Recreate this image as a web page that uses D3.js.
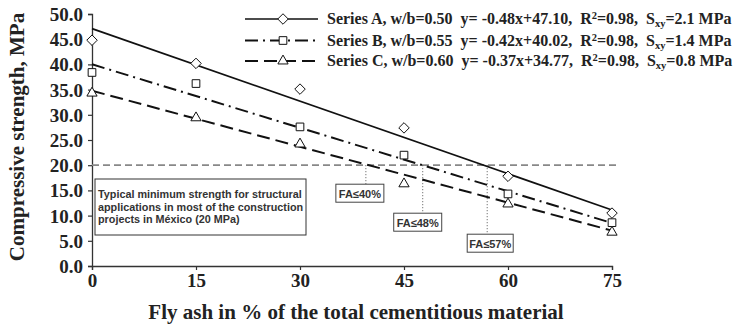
<!DOCTYPE html>
<html>
<head>
<meta charset="utf-8">
<script src="https://cdn.jsdelivr.net/npm/d3@7"></script>
<style>
  body { margin: 0; background: #fff; }
  svg { display: block; }
</style>
</head>
<body>
<script>
// fly ash content, %
const flyAsh = [0, 15, 30, 45, 60, 75]

const seriesA = [44.8, 40.2, 35.1, 27.4, 17.8, 10.5]
const seriesB = [38.4, 36.2, 27.6, 22.0, 14.3, 8.6]
const seriesC = [34.3, 29.4, 24.2, 16.3, 12.3, 6.7]

// regression fits from the legend
const slopes = [-0.48, -0.42, -0.37]
const intercepts = [47.10, 40.02, 34.77]

const seriesNames = ['Series A, w/b=0.50', 'Series B, w/b=0.55', 'Series C, w/b=0.60']
const fitTexts = ['y= -0.48x+47.10', 'y= -0.42x+40.02', 'y= -0.37x+34.77']
const sxyTexts = ['=2.1 MPa', '=1.4 MPa', '=0.8 MPa']

const yTicks = [0, 5, 10, 15, 20, 25, 30, 35, 40, 45, 50]
const xTicks = [0, 15, 30, 45, 60, 75]

// minimum strength line and where the fits cross it
const minStrength = 20
const crossings = [39.5, 47.7, 57.0]
const crossLabels = ['FA≤40%', 'FA≤48%', 'FA≤57%']

const width = 734
const height = 327

const svg = d3.select('body').append('svg')
  .attr('width', width)
  .attr('height', height)

const x = d3.scaleLinear().domain([0, 75]).range([92, 612])
const y = d3.scaleLinear().domain([0, 50]).range([266, 14])

const serif = '"Liberation Serif", "Times New Roman", serif'
const sans = '"Liberation Sans", Arial, sans-serif'

// axes
const yAxis = d3.axisLeft(y).tickValues(yTicks).tickSize(4).tickFormat(d3.format('.1f'))
const xAxis = d3.axisBottom(x).tickValues(xTicks).tickSize(4).tickFormat(d3.format('d'))

const gy = svg.append('g')
  .attr('transform', 'translate(' + x(0) + ',0)')
  .call(yAxis)
const gx = svg.append('g')
  .attr('transform', 'translate(0,' + y(0) + ')')
  .call(xAxis)

svg.selectAll('.domain').attr('stroke', '#333').attr('stroke-width', 1.3)
svg.selectAll('.tick line').attr('stroke', '#333').attr('stroke-width', 1.2)
svg.selectAll('.tick text')
  .style('font-family', serif)
  .style('font-weight', 'bold')
  .style('font-size', '19px')
  .attr('fill', '#222')
gy.selectAll('.tick text').attr('x', -9).attr('dy', '0.34em')
gx.selectAll('.tick text').attr('y', 8)

// axis titles
svg.append('text')
  .attr('transform', 'translate(24,' + 137 + ') rotate(-90)')
  .attr('text-anchor', 'middle')
  .style('font-family', serif)
  .style('font-weight', 'bold')
  .style('font-size', '21px')
  .attr('fill', '#222')
  .text('Compressive strength, MPa')

svg.append('text')
  .attr('x', 356)
  .attr('y', 319)
  .attr('text-anchor', 'middle')
  .style('font-family', serif)
  .style('font-weight', 'bold')
  .style('font-size', '21px')
  .attr('fill', '#222')
  .text('Fly ash in % of the total cementitious material')

// 20 MPa reference line
svg.append('line')
  .attr('x1', x(0)).attr('x2', x(76))
  .attr('y1', y(minStrength)).attr('y2', y(minStrength))
  .attr('stroke', '#888')
  .attr('stroke-width', 1.8)
  .attr('stroke-dasharray', '7,4')

// dotted drop lines and FA labels
const labelBoxes = [
  { dy: 19, w: 48, off: -6 },
  { dy: 48, w: 48, off: -5 },
  { dy: 69, w: 46, off: 3 }
]
crossings.forEach((c, i) => {
  const bx = x(c)
  const top = y(minStrength)
  const by = top + labelBoxes[i].dy
  const cx = bx + labelBoxes[i].off
  svg.append('line')
    .attr('x1', bx).attr('x2', bx)
    .attr('y1', top).attr('y2', by)
    .attr('stroke', '#555')
    .attr('stroke-width', 1)
    .attr('stroke-dasharray', '1,2')
  const w = labelBoxes[i].w
  svg.append('rect')
    .attr('x', cx - w / 2)
    .attr('y', by)
    .attr('width', w)
    .attr('height', 18)
    .attr('fill', '#fff')
    .attr('stroke', '#444')
    .attr('stroke-width', 1)
  svg.append('text')
    .attr('x', cx)
    .attr('y', by + 13.5)
    .attr('text-anchor', 'middle')
    .style('font-family', sans)
    .style('font-weight', 'bold')
    .style('font-size', '11px')
    .attr('fill', '#333')
    .text(crossLabels[i])
})

// note box
const note = ['Typical minimum strength for structural',
  'applications in most of the construction',
  'projects in México (20 MPa)']
svg.append('rect')
  .attr('x', 95).attr('y', 179)
  .attr('width', 211).attr('height', 56)
  .attr('fill', '#fff')
  .attr('stroke', '#333')
  .attr('stroke-width', 1)
svg.append('g').selectAll('text')
  .data(note)
  .enter()
  .append('text')
  .attr('x', 98)
  .attr('y', (d, i) => 198 + i * 12.5)
  .style('font-family', sans)
  .style('font-weight', 'bold')
  .style('font-size', '10.8px')
  .attr('fill', '#333')
  .text(d => d)

// fit lines
const dashes = [null, '13,5,2,5', '13,6']
const widths = [1.7, 2, 2]
intercepts.forEach((b, i) => {
  svg.append('line')
    .attr('x1', x(0)).attr('y1', y(b))
    .attr('x2', x(75)).attr('y2', y(b + slopes[i] * 75))
    .attr('stroke', '#111')
    .attr('stroke-width', widths[i])
    .attr('stroke-dasharray', dashes[i])
})

// markers
const symbols = [d3.symbolDiamond2, d3.symbolSquare2, d3.symbolTriangle2]
const sizes = [70, 75, 75]
const allSeries = [seriesA, seriesB, seriesC]

allSeries.forEach((vals, i) => {
  svg.append('g').selectAll('path')
    .data(vals)
    .enter()
    .append('path')
    .attr('d', d3.symbol().type(symbols[i]).size(sizes[i]))
    .attr('transform', (d, j) => 'translate(' + x(flyAsh[j]) + ',' + y(d) + ')')
    .attr('fill', '#fff')
    .attr('stroke', '#111')
    .attr('stroke-width', 1)
})

// legend
const legend = svg.append('g')
const rowY = [19, 40.5, 61]
seriesNames.forEach((name, i) => {
  const ly = rowY[i]
  legend.append('line')
    .attr('x1', 245).attr('x2', 318)
    .attr('y1', ly).attr('y2', ly)
    .attr('stroke', '#111')
    .attr('stroke-width', widths[i])
    .attr('stroke-dasharray', dashes[i])
  legend.append('path')
    .attr('d', d3.symbol().type(symbols[i]).size(sizes[i]))
    .attr('transform', 'translate(283,' + ly + ')')
    .attr('fill', '#fff')
    .attr('stroke', '#111')
    .attr('stroke-width', 1)
  const t = legend.append('text')
    .attr('x', 327)
    .attr('y', ly + 5)
    .style('font-family', serif)
    .style('font-weight', 'bold')
    .style('font-size', '16px')
    .style('white-space', 'pre')
    .attr('fill', '#222')
  t.append('tspan').text(name + '  ' + fitTexts[i] + ',  R')
  t.append('tspan').attr('dy', -5).style('font-size', '10.5px').text('2')
  t.append('tspan').attr('dy', 5).text('=0.98,  S')
  t.append('tspan').attr('dy', 3).style('font-size', '10.5px').text('xy')
  t.append('tspan').attr('dy', -3).text(sxyTexts[i])
})
</script>
</body>
</html>
